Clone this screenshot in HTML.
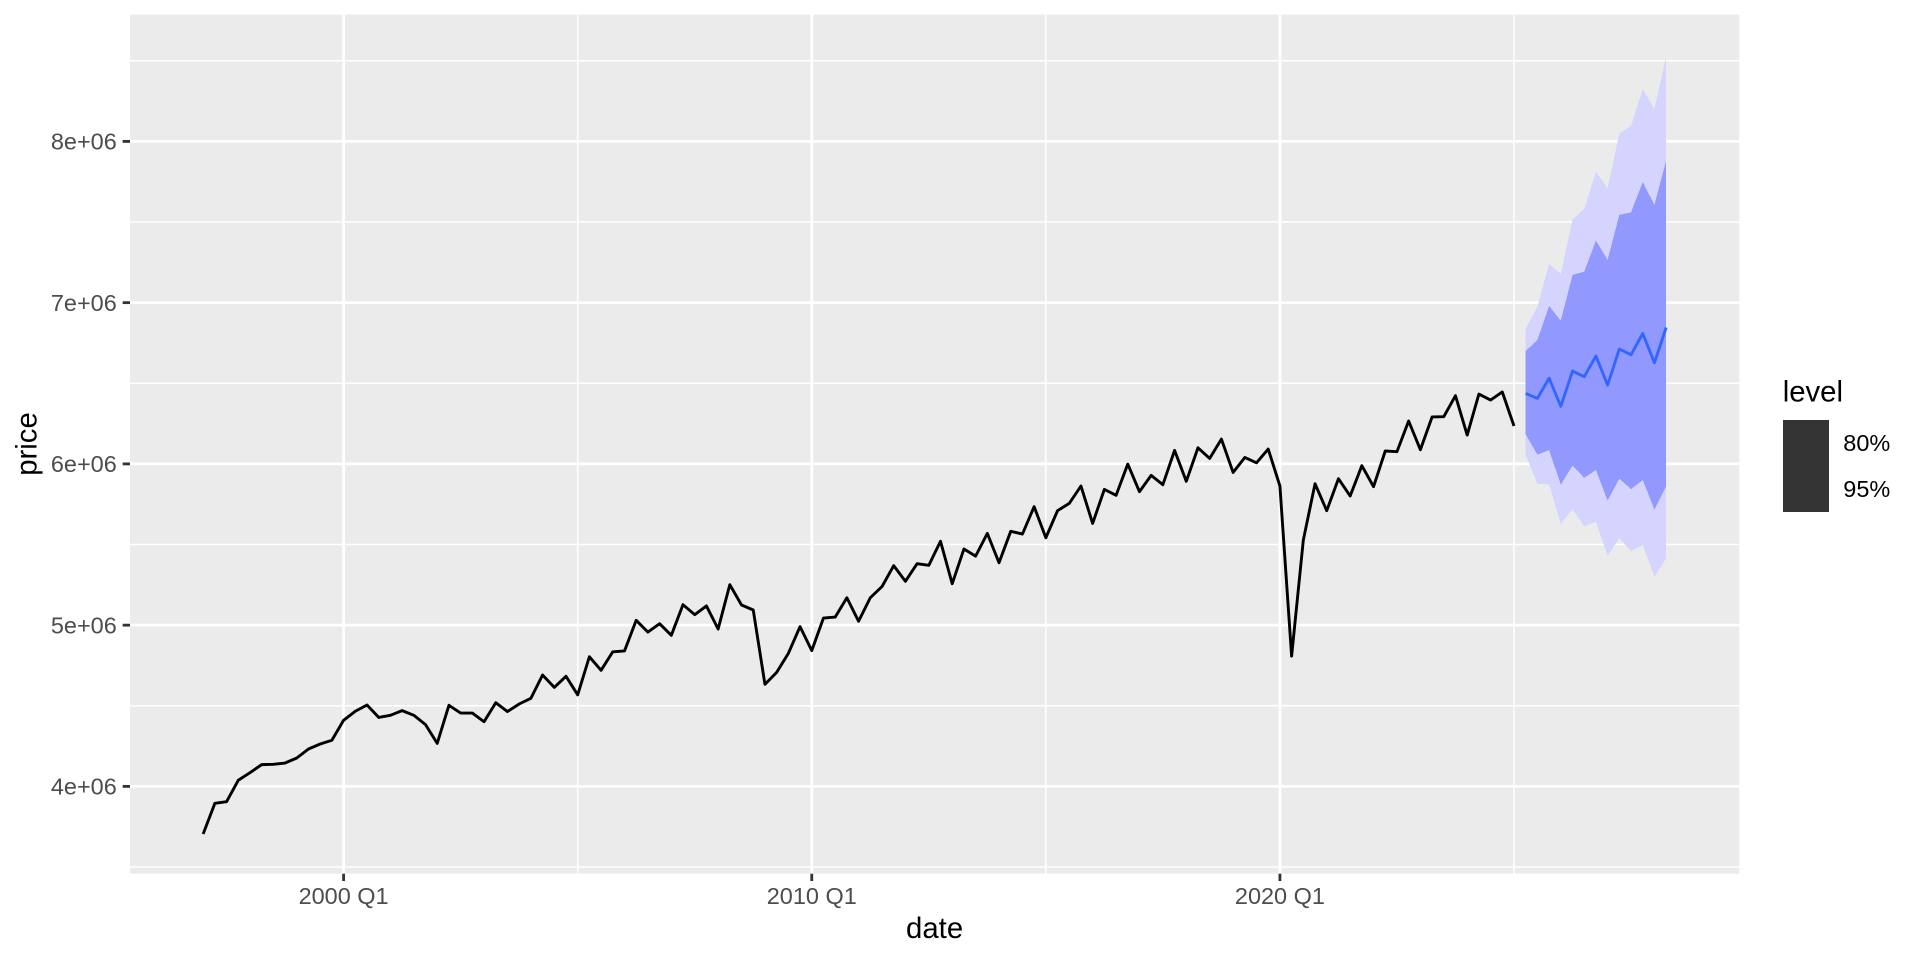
<!DOCTYPE html>
<html lang="en">
<head>
<meta charset="utf-8">
<title>Price forecast</title>
<style>
html,body{margin:0;padding:0;background:#fff;width:1920px;height:960px;overflow:hidden}
svg{display:block}
text{font-family:"Liberation Sans",sans-serif}
.tick{font-size:23.47px;fill:#4d4d4d}
.title{font-size:29.33px;fill:#000}
.legend-label{font-size:23.47px;fill:#000}
</style>
</head>
<body>
<svg id="chart" xmlns="http://www.w3.org/2000/svg" width="1920" height="960" viewBox="0 0 1920 960">
  <rect x="0" y="0" width="1920" height="960" fill="#ffffff"/>
  <rect x="130" y="14.67" width="1609.3" height="859" fill="#ebebeb"/>
  <g id="grid-minor"></g>
  <g id="grid-major"></g>
  <path id="ribbon95" fill="#d4d4ff" shape-rendering="crispEdges"/>
  <path id="ribbon80" fill="#9199ff" shape-rendering="crispEdges"/>
  <path id="history-line" fill="none" stroke="#000000" stroke-width="2.9" stroke-linejoin="round"/>
  <path id="forecast-line" fill="none" stroke="#3366ff" stroke-width="2.9" stroke-linejoin="round"/>
  <g id="axis-x"></g>
  <g id="axis-y"></g>
  <text class="title" x="934.6" y="938" text-anchor="middle">date</text>
  <text class="title" x="0" y="0" text-anchor="middle" transform="translate(36.5,444) rotate(-90)">price</text>
  <g>
    <text class="title" x="1782.7" y="401.7">level</text>
    <rect x="1783" y="420" width="46" height="46" fill="#333333"/>
    <rect x="1783" y="466" width="46" height="46" fill="#333333"/>
    <text class="legend-label" x="1843.3" y="451">80%</text>
    <text class="legend-label" x="1843.3" y="497">95%</text>
  </g>
</svg>
<script>
const historyQuarters = [
"1997 Q1","1997 Q2","1997 Q3","1997 Q4","1998 Q1","1998 Q2","1998 Q3","1998 Q4",
"1999 Q1","1999 Q2","1999 Q3","1999 Q4","2000 Q1","2000 Q2","2000 Q3","2000 Q4",
"2001 Q1","2001 Q2","2001 Q3","2001 Q4","2002 Q1","2002 Q2","2002 Q3","2002 Q4",
"2003 Q1","2003 Q2","2003 Q3","2003 Q4","2004 Q1","2004 Q2","2004 Q3","2004 Q4",
"2005 Q1","2005 Q2","2005 Q3","2005 Q4","2006 Q1","2006 Q2","2006 Q3","2006 Q4",
"2007 Q1","2007 Q2","2007 Q3","2007 Q4","2008 Q1","2008 Q2","2008 Q3","2008 Q4",
"2009 Q1","2009 Q2","2009 Q3","2009 Q4","2010 Q1","2010 Q2","2010 Q3","2010 Q4",
"2011 Q1","2011 Q2","2011 Q3","2011 Q4","2012 Q1","2012 Q2","2012 Q3","2012 Q4",
"2013 Q1","2013 Q2","2013 Q3","2013 Q4","2014 Q1","2014 Q2","2014 Q3","2014 Q4",
"2015 Q1","2015 Q2","2015 Q3","2015 Q4","2016 Q1","2016 Q2","2016 Q3","2016 Q4",
"2017 Q1","2017 Q2","2017 Q3","2017 Q4","2018 Q1","2018 Q2","2018 Q3","2018 Q4",
"2019 Q1","2019 Q2","2019 Q3","2019 Q4","2020 Q1","2020 Q2","2020 Q3","2020 Q4",
"2021 Q1","2021 Q2","2021 Q3","2021 Q4","2022 Q1","2022 Q2","2022 Q3","2022 Q4",
"2023 Q1","2023 Q2","2023 Q3","2023 Q4","2024 Q1","2024 Q2","2024 Q3","2024 Q4",
"2025 Q1"];
const historyPrice = [
3705000,3895000,3905000,4038000,4085000,4135000,4137000,4145000,
4176000,4232000,4263000,4286000,4410000,4466000,4505000,4428000,
4441000,4470000,4441000,4383000,4267000,4503000,4455000,4455000,
4401000,4519000,4464000,4511000,4546000,4691000,4614000,4683000,
4568000,4804000,4720000,4835000,4840000,5030000,4957000,5009000,
4937000,5127000,5065000,5119000,4976000,5251000,5125000,5094000,
4633000,4707000,4825000,4991000,4842000,5044000,5050000,5170000,
5024000,5170000,5239000,5369000,5272000,5381000,5371000,5520000,
5257000,5472000,5428000,5569000,5387000,5582000,5565000,5735000,
5542000,5710000,5755000,5863000,5631000,5842000,5805000,5999000,
5828000,5929000,5871000,6084000,5892000,6100000,6034000,6154000,
5947000,6040000,6007000,6092000,5863000,4808000,5528000,5877000,
5710000,5908000,5801000,5989000,5859000,6080000,6076000,6266000,
6088000,6291000,6293000,6423000,6179000,6433000,6396000,6446000,
6235000];
const forecastQuarters = ["2025 Q2","2025 Q3","2025 Q4","2026 Q1","2026 Q2","2026 Q3","2026 Q4","2027 Q1","2027 Q2","2027 Q3","2027 Q4","2028 Q1","2028 Q2"];
const forecastMean = [6437000,6406000,6532000,6357000,6576000,6541000,6669000,6489000,6712000,6677000,6809000,6627000,6846000];
const lower80 = [6183000,6057000,6086000,5871000,5989000,5914000,5962000,5772000,5908000,5844000,5900000,5716000,5863000];
const upper80 = [6700000,6768000,6979000,6888000,7172000,7192000,7385000,7265000,7544000,7560000,7748000,7606000,7881000];
const lower95 = [6055000,5877000,5873000,5627000,5718000,5614000,5641000,5430000,5538000,5459000,5497000,5300000,5414000];
const upper95 = [6840000,6975000,7240000,7178000,7517000,7581000,7812000,7709000,8050000,8096000,8325000,8201000,8526000];
const yMajorTicks = [4000000,5000000,6000000,7000000,8000000];
const yTickLabels = ["4e+06","5e+06","6e+06","7e+06","8e+06"];
const yMinorTicks = [3500000,4500000,5500000,6500000,7500000,8500000];
const xMajorTicks = ["2000 Q1","2010 Q1","2020 Q1"];
const xMinorTicks = ["2005 Q1","2015 Q1","2025 Q1"];

const SVG_NS = "http://www.w3.org/2000/svg";
const panel = {left: 130, right: 1739.3, top: 14.67, bottom: 873.7};
const xDomain = [1995.4375, 2029.8125];
const yDomain = [3458600, 8786000];
const majorWidth = 2.8;
const minorWidth = 1.5;

function quarterToYear(label) {
  const parts = label.split(" Q");
  return Number(parts[0]) + (Number(parts[1]) - 1) / 4;
}
function xScale(label) {
  const t = quarterToYear(label);
  return panel.left + (t - xDomain[0]) / (xDomain[1] - xDomain[0]) * (panel.right - panel.left);
}
function yScale(value) {
  return panel.bottom - (value - yDomain[0]) / (yDomain[1] - yDomain[0]) * (panel.bottom - panel.top);
}
function linePath(quarters, values) {
  return values.map(function (v, i) {
    return (i ? "L" : "M") + xScale(quarters[i]).toFixed(2) + " " + yScale(v).toFixed(2);
  }).join("");
}
function bandPath(quarters, low, high) {
  const up = high.map(function (v, i) {
    return (i ? "L" : "M") + xScale(quarters[i]).toFixed(2) + " " + yScale(v).toFixed(2);
  }).join("");
  let down = "";
  for (let i = low.length - 1; i >= 0; i--) {
    down += "L" + xScale(quarters[i]).toFixed(2) + " " + yScale(low[i]).toFixed(2);
  }
  return up + down + "Z";
}
function makeLine(parent, x1, y1, x2, y2, color, width) {
  const el = document.createElementNS(SVG_NS, "line");
  el.setAttribute("x1", x1);
  el.setAttribute("y1", y1);
  el.setAttribute("x2", x2);
  el.setAttribute("y2", y2);
  el.setAttribute("stroke", color);
  el.setAttribute("stroke-width", width);
  parent.appendChild(el);
  return el;
}
function makeText(parent, x, y, anchor, content) {
  const el = document.createElementNS(SVG_NS, "text");
  el.setAttribute("class", "tick");
  el.setAttribute("x", x);
  el.setAttribute("y", y);
  el.setAttribute("text-anchor", anchor);
  el.textContent = content;
  parent.appendChild(el);
  return el;
}

const gridMinor = document.getElementById("grid-minor");
const gridMajor = document.getElementById("grid-major");
const axisX = document.getElementById("axis-x");
const axisY = document.getElementById("axis-y");

yMinorTicks.forEach(function (v) {
  const el = makeLine(gridMinor, panel.left, yScale(v), panel.right, yScale(v), "#ffffff", minorWidth);
  
  
});
xMinorTicks.forEach(function (q) {
  const el = makeLine(gridMinor, xScale(q), panel.top, xScale(q), panel.bottom, "#ffffff", minorWidth);
  
  
});
yMajorTicks.forEach(function (v, i) {
  const y = yScale(v);
  const grid = makeLine(gridMajor, panel.left, y, panel.right, y, "#ffffff", majorWidth);
  
  
  const tick = makeLine(axisY, panel.left - 7.33, y, panel.left, y, "#333333", majorWidth);
  
  
  const label = makeText(axisY, 116.8, y + 8.1, "end", yTickLabels[i]);
  
  
});
xMajorTicks.forEach(function (q) {
  const x = xScale(q);
  const grid = makeLine(gridMajor, x, panel.top, x, panel.bottom, "#ffffff", majorWidth);
  
  
  const tick = makeLine(axisX, x, panel.bottom, x, panel.bottom + 7.33, "#333333", majorWidth);
  
  
  const label = makeText(axisX, x, 904, "middle", q);
  
  
});

document.getElementById("ribbon95").setAttribute("d", bandPath(forecastQuarters, lower95, upper95));
document.getElementById("ribbon80").setAttribute("d", bandPath(forecastQuarters, lower80, upper80));
document.getElementById("history-line").setAttribute("d", linePath(historyQuarters, historyPrice));
document.getElementById("forecast-line").setAttribute("d", linePath(forecastQuarters, forecastMean));
</script>
</body>
</html>
